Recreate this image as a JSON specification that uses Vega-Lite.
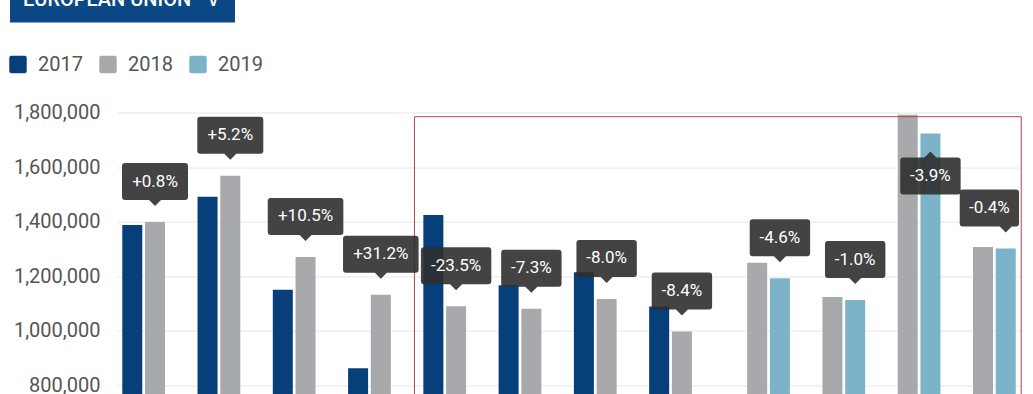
{
  "$schema": "https://vega.github.io/schema/vega-lite/v6.json",
  "width": 904,
  "height": 273,
  "autosize": {"type": "none"},
  "padding": {"left": 117, "top": 112.5, "right": 12, "bottom": 8.5},
  "background": "#ffffff",
  "config": {
    "font": "Roboto",
    "view": {"stroke": null},
    "axisY": {"domain": false, "ticks": false, "labelFontSize": 20, "labelColor": "#555555", "labelPadding": 17, "gridColor": "#e6e6e6", "labelFont": "Roboto"}
  },
  "datasets": {
    "bars": [
      {"cat": "1", "year": "2017", "value": 1387500},
      {"cat": "1", "year": "2018", "value": 1398500, "change": "+0.8%"},
      {"cat": "2", "year": "2017", "value": 1491000},
      {"cat": "2", "year": "2018", "value": 1568000, "change": "+5.2%"},
      {"cat": "3", "year": "2017", "value": 1150500},
      {"cat": "3", "year": "2018", "value": 1271000, "change": "+10.5%"},
      {"cat": "4", "year": "2017", "value": 863000},
      {"cat": "4", "year": "2018", "value": 1132000, "change": "+31.2%"},
      {"cat": "5", "year": "2017", "value": 1425000},
      {"cat": "5", "year": "2018", "value": 1090000, "change": "-23.5%"},
      {"cat": "6", "year": "2017", "value": 1167000},
      {"cat": "6", "year": "2018", "value": 1081000, "change": "-7.3%"},
      {"cat": "7", "year": "2017", "value": 1215000},
      {"cat": "7", "year": "2018", "value": 1117000, "change": "-8.0%"},
      {"cat": "8", "year": "2017", "value": 1089000},
      {"cat": "8", "year": "2018", "value": 998000, "change": "-8.4%"},
      {"cat": "9", "year": "2018", "value": 1250000},
      {"cat": "9", "year": "2019", "value": 1193000, "change": "-4.6%"},
      {"cat": "10", "year": "2018", "value": 1124000},
      {"cat": "10", "year": "2019", "value": 1113000, "change": "-1.0%"},
      {"cat": "11", "year": "2018", "value": 1792000},
      {"cat": "11", "year": "2019", "value": 1723000, "change": "-3.9%"},
      {"cat": "12", "year": "2018", "value": 1307000},
      {"cat": "12", "year": "2019", "value": 1302000, "change": "-0.4%"}
    ],
    "frame": [
      {"from": "5", "to": "12", "top": 1784600, "bottom": 700000}
    ],
    "button": [
      {"region": "EUROPEAN UNION\u00a0\u00a0\u00a0\u2228\u00a0"}
    ]
  },
  "layer": [
    {
      "data": {"name": "bars"},
      "mark": {"type": "bar"},
      "encoding": {
        "x": {"field": "cat", "type": "nominal", "axis": null, "sort": null,
              "scale": {"domain": ["1","2","3","4","5","6","7","8","9","10","11","12"], "paddingInner": 0.13, "paddingOuter": 0.07}},
        "xOffset": {"field": "year", "type": "nominal", "scale": {"domain": ["2017","2018","2019"], "paddingInner": 0.12, "paddingOuter": 0}},
        "y": {"field": "value", "type": "quantitative", "title": null,
              "scale": {"domain": [800000, 1800000], "zero": false, "nice": false},
              "axis": {"values": [800000, 1000000, 1200000, 1400000, 1600000, 1800000], "format": ",d", "title": null}},
        "color": {"field": "year", "type": "nominal",
                  "scale": {"domain": ["2017","2018","2019"], "range": ["#073f7a", "#a8a9ad", "#7db3c8"]},
                  "legend": {"orient": "none", "legendX": -109, "legendY": -58, "direction": "horizontal", "title": null,
                             "symbolType": "M-1,-0.75Q-1,-1 -0.75,-1H0.75Q1,-1 1,-0.75V0.75Q1,1 0.75,1H-0.75Q-1,1 -1,0.75Z",
                             "symbolSize": 306, "symbolStrokeWidth": 0, "symbolOpacity": 1,
                             "labelFontSize": 20, "labelColor": "#555555", "labelOffset": 10, "columnPadding": 15, "labelFont": "Roboto"}}
      }
    },
    {
      "data": {"name": "frame"},
      "mark": {"type": "rect", "fillOpacity": 0, "stroke": "#b8434f", "strokeWidth": 1},
      "encoding": {
        "x": {"field": "from", "type": "nominal", "axis": null, "bandPosition": -0.136},
        "x2": {"field": "to", "bandPosition": 1.084},
        "y": {"field": "top", "type": "quantitative", "title": null},
        "y2": {"field": "bottom"}
      }
    },
    {
      "data": {"name": "bars"},
      "transform": [{"filter": "isValid(datum.change)"}],
      "mark": {"type": "point", "filled": true, "size": 4, "color": "#2f2f2f", "opacity": 0.9, "strokeWidth": 0},
      "encoding": {
        "x": {"field": "cat", "type": "nominal", "axis": null},
        "xOffset": {"field": "year", "type": "nominal"},
        "y": {"field": "value", "type": "quantitative", "title": null},
        "shape": {"field": "change", "type": "nominal", "legend": null,
                  "scale": {"domain": ["+0.8%","+5.2%","+10.5%","+31.2%","-23.5%","-7.3%","-8.0%","-8.4%","-4.6%","-1.0%","-3.9%","-0.4%"],
                            "range": [
                              "M-30,-59H30Q33,-59 33,-56V-25Q33,-22 30,-22H6L0,-16L-6,-22H-30Q-33,-22 -33,-25V-56Q-33,-59 -30,-59Z",
                              "M-30,-59H30Q33,-59 33,-56V-25Q33,-22 30,-22H6L0,-16L-6,-22H-30Q-33,-22 -33,-25V-56Q-33,-59 -30,-59Z",
                              "M-34.8,-59H34.8Q37.8,-59 37.8,-56V-25Q37.8,-22 34.8,-22H6L0,-16L-6,-22H-34.8Q-37.8,-22 -37.8,-25V-56Q-37.8,-59 -34.8,-59Z",
                              "M-34.8,-59H34.8Q37.8,-59 37.8,-56V-25Q37.8,-22 34.8,-22H6L0,-16L-6,-22H-34.8Q-37.8,-22 -37.8,-25V-56Q-37.8,-59 -34.8,-59Z",
                              "M-32.2,-59H32.2Q35.2,-59 35.2,-56V-25Q35.2,-22 32.2,-22H6L0,-16L-6,-22H-32.2Q-35.2,-22 -35.2,-25V-56Q-35.2,-59 -32.2,-59Z",
                              "M-27.2,-59H27.2Q30.2,-59 30.2,-56V-25Q30.2,-22 27.2,-22H6L0,-16L-6,-22H-27.2Q-30.2,-22 -30.2,-25V-56Q-30.2,-59 -27.2,-59Z",
                              "M-27.2,-59H27.2Q30.2,-59 30.2,-56V-25Q30.2,-22 27.2,-22H6L0,-16L-6,-22H-27.2Q-30.2,-22 -30.2,-25V-56Q-30.2,-59 -27.2,-59Z",
                              "M-27.2,-59H27.2Q30.2,-59 30.2,-56V-25Q30.2,-22 27.2,-22H6L0,-16L-6,-22H-27.2Q-30.2,-22 -30.2,-25V-56Q-30.2,-59 -27.2,-59Z",
                              "M-27.2,-59H27.2Q30.2,-59 30.2,-56V-25Q30.2,-22 27.2,-22H6L0,-16L-6,-22H-27.2Q-30.2,-22 -30.2,-25V-56Q-30.2,-59 -27.2,-59Z",
                              "M-27.2,-59H27.2Q30.2,-59 30.2,-56V-25Q30.2,-22 27.2,-22H6L0,-16L-6,-22H-27.2Q-30.2,-22 -30.2,-25V-56Q-30.2,-59 -27.2,-59Z",
                              "M-27.2,24H-6L0,18L6,24H27.2Q30.2,24 30.2,27V58Q30.2,61 27.2,61H-27.2Q-30.2,61 -30.2,58V27Q-30.2,24 -27.2,24Z",
                              "M-43,-59H10.3Q13.3,-59 13.3,-56V-25Q13.3,-22 10.3,-22H6L0,-16L-6,-22H-43Q-46,-22 -46,-25V-56Q-46,-59 -43,-59Z"
                            ]}}
      }
    },
    {
      "data": {"name": "bars"},
      "transform": [{"filter": "isValid(datum.change) && datum.cat != '11' && datum.cat != '12'"}],
      "mark": {"type": "text", "color": "#ffffff", "fontSize": 17, "font": "Roboto", "baseline": "middle", "align": "center", "dy": -40.5},
      "encoding": {
        "x": {"field": "cat", "type": "nominal", "axis": null},
        "xOffset": {"field": "year", "type": "nominal"},
        "y": {"field": "value", "type": "quantitative", "title": null},
        "text": {"field": "change", "type": "nominal"}
      }
    },
    {
      "data": {"name": "bars"},
      "transform": [{"filter": "datum.cat == '11' && isValid(datum.change)"}],
      "mark": {"type": "text", "color": "#ffffff", "fontSize": 17, "font": "Roboto", "baseline": "middle", "align": "center", "dy": 42.5},
      "encoding": {
        "x": {"field": "cat", "type": "nominal", "axis": null},
        "xOffset": {"field": "year", "type": "nominal"},
        "y": {"field": "value", "type": "quantitative", "title": null},
        "text": {"field": "change", "type": "nominal"}
      }
    },
    {
      "data": {"name": "bars"},
      "transform": [{"filter": "datum.cat == '12' && isValid(datum.change)"}],
      "mark": {"type": "text", "color": "#ffffff", "fontSize": 17, "font": "Roboto", "baseline": "middle", "align": "center", "dy": -40.5, "dx": -16.3},
      "encoding": {
        "x": {"field": "cat", "type": "nominal", "axis": null},
        "xOffset": {"field": "year", "type": "nominal"},
        "y": {"field": "value", "type": "quantitative", "title": null},
        "text": {"field": "change", "type": "nominal"}
      }
    },
    {
      "data": {"name": "button"},
      "mark": {"type": "point", "opacity": 0},
      "encoding": {
        "shape": {"field": "region", "type": "nominal",
                  "legend": {"orient": "none", "legendX": -107, "legendY": -136, "title": null, "fillColor": "#0b4885",
                             "padding": 13, "symbolSize": 0, "symbolOpacity": 0, "symbolStrokeWidth": 0, "labelOffset": -20,
                             "labelColor": "#ffffff", "labelFontSize": 20, "labelFontWeight": 500, "labelLimit": 400, "labelFont": "Roboto"}}
      }
    }
  ],
  "resolve": {"scale": {"shape": "independent"}}
}
